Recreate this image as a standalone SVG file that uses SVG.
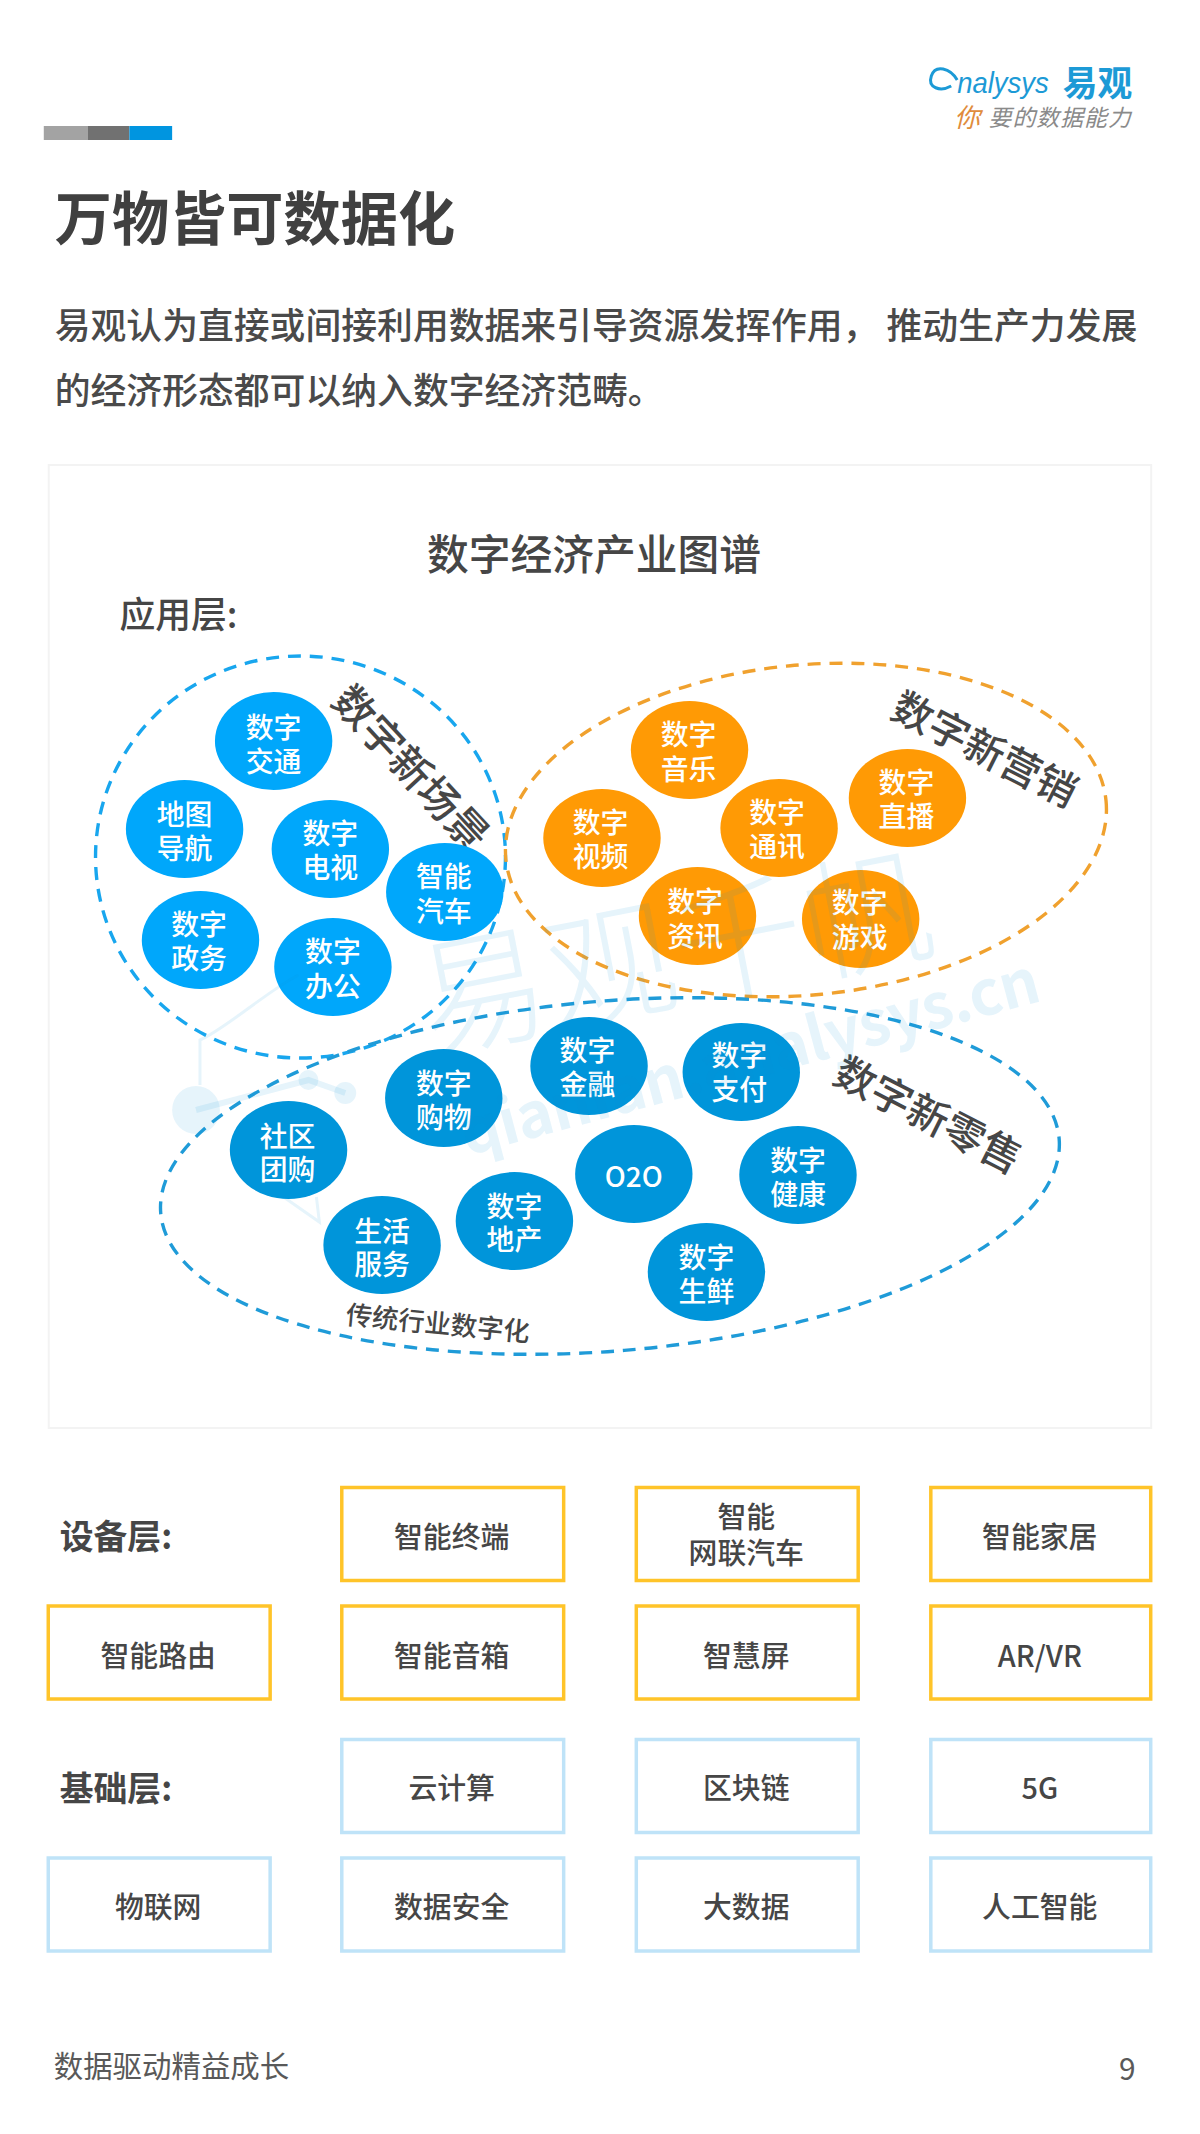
<svg xmlns="http://www.w3.org/2000/svg" width="1200" height="2134" viewBox="0 0 1200 2134">
<style>
text{font-family:"Noto Sans CJK SC","Noto Sans",sans-serif;text-anchor:middle;fill:#464646}
.l{text-anchor:start}
.c{font-size:28px;fill:#fff;font-weight:500}
.a{fill:#00a7fb}.b{fill:#ff9a05}.d{fill:#0095da}
.dash{fill:none;stroke-width:3.4;stroke-dasharray:13 9}
.bx{fill:#fff;stroke-width:3.5}
.y{stroke:#ffc429}.s{stroke:#bfe3f8}
.t{font-size:29px;font-weight:500}
.h{font-size:34px;font-weight:700}
.wm{fill:#0a90dc;fill-opacity:.1}
</style>
<rect width="1200" height="2134" fill="#fff"/>
<g id="page" transform="scale(.995 1)">
<g id="header">
<rect x="44" y="126" width="44" height="14" fill="#a3a3a3"/>
<rect x="88" y="126" width="42" height="14" fill="#717171"/>
<rect x="130" y="126" width="43" height="14" fill="#0095e0"/>
<g id="logo">
<path d="M962 80C955 68 940 64 936 76C932 88 945 92 956 86" fill="none" stroke="#1c9ad6" stroke-width="3"/>
<text x="962" y="93" class="l" style="font-family:'Liberation Sans',sans-serif;font-size:30px;font-style:italic;fill:#1c9ad6" textLength="92" lengthAdjust="spacingAndGlyphs">nalysys</text>
<text x="1103" y="96" style="font-size:35px;font-weight:700;fill:#1c9ad6">易观</text>
<text x="972" y="127" style="font-size:26px;font-style:italic;fill:#e08c3c">你</text>
<text x="1065" y="126" style="font-size:23px;font-style:italic;fill:#8a8a8a" textLength="143">要的数据能力</text>
</g>
<text x="55" y="240" class="l" style="font-size:57.5px;font-weight:700;fill:#404040">万物皆可数据化</text>
<text x="55" y="339" class="l" style="font-size:36px;font-weight:500;fill:#4a4a4a" xml:space="preserve">易观认为直接或间接利用数据来引导资源发挥作用， 推动生产力发展</text>
<text x="55" y="404" class="l" style="font-size:36px;font-weight:500;fill:#4a4a4a">的经济形态都可以纳入数字经济范畴。</text>
</g>
<rect id="panel" x="49" y="465" width="1108" height="963" fill="#fff" stroke="#f3f3f3" stroke-width="2"/>
<text x="597" y="570" style="font-size:42px;font-weight:500">数字经济产业图谱</text>
<text x="120" y="628" class="l" style="font-size:36px;font-weight:500">应用层:</text>
<g id="regions">
<ellipse cx="302" cy="857" rx="206" ry="201" class="dash" stroke="#18a6ee"/>
<ellipse cx="810" cy="830" rx="303" ry="165" class="dash" stroke="#f0a12e" transform="rotate(-5.5 810 830)"/>
<ellipse cx="613" cy="1176" rx="453" ry="175" class="dash" stroke="#1f9bd8" transform="rotate(-4.7 613 1176)"/>
</g>
<g id="region-labels">
<text transform="translate(413 768) rotate(47)" y="15" style="font-size:41.5px;font-weight:500">数字新场景</text>
<text transform="translate(990 749) rotate(27)" y="15" style="font-size:40.5px;font-weight:500">数字新营销</text>
<text transform="translate(933 1115) rotate(27)" y="15" style="font-size:41px;font-weight:500">数字新零售</text>
<text transform="translate(440 1324) rotate(5.5)" y="9" style="font-size:26.5px;font-weight:500">传统行业数字化</text>
</g>
<g id="n-jiaotong"><ellipse cx="275" cy="741" rx="59" ry="49" class="a"/><text class="c" x="275" y="738">数字</text><text class="c" x="275" y="772">交通</text></g>
<g id="n-daohang"><ellipse cx="185.500" cy="829" rx="59" ry="49" class="a"/><text class="c" x="185.500" y="825">地图</text><text class="c" x="185.500" y="859">导航</text></g>
<g id="n-dianshi"><ellipse cx="332" cy="849" rx="59" ry="49" class="a"/><text class="c" x="332" y="844">数字</text><text class="c" x="332" y="878">电视</text></g>
<g id="n-qiche"><ellipse cx="447" cy="892" rx="59" ry="49" class="a"/><text class="c" x="446" y="887">智能</text><text class="c" x="446" y="922">汽车</text></g>
<g id="n-zhengwu"><ellipse cx="201.500" cy="940" rx="59" ry="49" class="a"/><text class="c" x="200" y="935">数字</text><text class="c" x="200" y="969">政务</text></g>
<g id="n-bangong"><ellipse cx="334.600" cy="967" rx="59" ry="49" class="a"/><text class="c" x="334.600" y="962">数字</text><text class="c" x="334.600" y="997">办公</text></g>
<g id="n-yinyue"><ellipse cx="693" cy="750" rx="59" ry="49" class="b"/><text class="c" x="692" y="745">数字</text><text class="c" x="692" y="780">音乐</text></g>
<g id="n-shipin"><ellipse cx="605" cy="838" rx="59" ry="49" class="b"/><text class="c" x="603.600" y="833">数字</text><text class="c" x="603.600" y="867">视频</text></g>
<g id="n-tongxun"><ellipse cx="783" cy="828" rx="59" ry="49" class="b"/><text class="c" x="781" y="823">数字</text><text class="c" x="781" y="857">通讯</text></g>
<g id="n-zhibo"><ellipse cx="912" cy="798" rx="59" ry="49" class="b"/><text class="c" x="911" y="793">数字</text><text class="c" x="911" y="827">直播</text></g>
<g id="n-zixun"><ellipse cx="701" cy="916" rx="59" ry="49" class="b"/><text class="c" x="698.600" y="912">数字</text><text class="c" x="698.600" y="947">资讯</text></g>
<g id="n-youxi"><ellipse cx="865" cy="919" rx="59" ry="49" class="b"/><text class="c" x="864" y="913">数字</text><text class="c" x="864" y="948">游戏</text></g>
<g id="n-gouwu"><ellipse cx="446" cy="1098" rx="59" ry="49" class="d"/><text class="c" x="446" y="1094">数字</text><text class="c" x="446" y="1128">购物</text></g>
<g id="n-jinrong"><ellipse cx="592" cy="1066" rx="59" ry="49" class="d"/><text class="c" x="590.400" y="1061">数字</text><text class="c" x="590.400" y="1095">金融</text></g>
<g id="n-zhifu"><ellipse cx="745" cy="1072" rx="59" ry="49" class="d"/><text class="c" x="743" y="1066">数字</text><text class="c" x="743" y="1100">支付</text></g>
<g id="n-tuangou"><ellipse cx="290" cy="1150" rx="59" ry="49" class="d"/><text class="c" x="289" y="1147">社区</text><text class="c" x="289" y="1180">团购</text></g>
<g id="n-o2o"><ellipse cx="637" cy="1174" rx="59" ry="49" class="d"/><text class="c" x="637" y="1187">O2O</text></g>
<g id="n-jiankang"><ellipse cx="802" cy="1175" rx="59" ry="49" class="d"/><text class="c" x="802" y="1171">数字</text><text class="c" x="802" y="1205">健康</text></g>
<g id="n-dichan"><ellipse cx="517" cy="1221" rx="59" ry="49" class="d"/><text class="c" x="517" y="1217">数字</text><text class="c" x="517" y="1250">地产</text></g>
<g id="n-shenghuo"><ellipse cx="384" cy="1245" rx="59" ry="49" class="d"/><text class="c" x="384" y="1242">生活</text><text class="c" x="384" y="1275">服务</text></g>
<g id="n-shengxian"><ellipse cx="710" cy="1272" rx="59" ry="49" class="d"/><text class="c" x="710" y="1268">数字</text><text class="c" x="710" y="1302">生鲜</text></g>
<g id="watermark">
<text class="wm" transform="translate(687 1000) rotate(-11)" style="font-size:130px;font-weight:300" textLength="524">易观千帆</text>
<text class="wm" transform="translate(759 1078) rotate(-15)" style="font-size:62px;font-weight:700" textLength="600">qianfan.analysys.cn</text>
<circle cx="197" cy="1110" r="24" class="wm"/>
<circle cx="347" cy="1093" r="11" class="wm"/>
<circle cx="310" cy="1080" r="10" class="wm"/>
<path d="M197 1110L310 1080L347 1093" fill="none" stroke="#0a90dc" stroke-opacity=".1" stroke-width="6"/>
<path d="M201 1085V1040C225 1030 270 990 300 975M285 1197L321 1222L318 1197" fill="none" stroke="#0a90dc" stroke-opacity=".1" stroke-width="3"/>
</g>
<g id="device-layer">
<text class="h l" x="60" y="1549">设备层:</text>
<g id="b1"><rect x="343.500" y="1487.500" width="223" height="93" class="bx y"/><text class="t" x="454" y="1548">智能终端</text></g>
<g id="b2"><rect x="639.500" y="1487.500" width="223" height="93" class="bx y"/><text class="t" x="750" y="1528">智能</text><text class="t" x="750" y="1564">网联汽车</text></g>
<g id="b3"><rect x="935.500" y="1487.500" width="221" height="93" class="bx y"/><text class="t" x="1045" y="1548">智能家居</text></g>
<g id="b4"><rect x="48.500" y="1606" width="223" height="93" class="bx y"/><text class="t" x="159" y="1667">智能路由</text></g>
<g id="b5"><rect x="343.500" y="1606" width="223" height="93" class="bx y"/><text class="t" x="454" y="1667">智能音箱</text></g>
<g id="b6"><rect x="639.500" y="1606" width="223" height="93" class="bx y"/><text class="t" x="750" y="1667">智慧屏</text></g>
<g id="b7"><rect x="935.500" y="1606" width="221" height="93" class="bx y"/><text class="t" x="1045" y="1667">AR/VR</text></g>
</g>
<g id="base-layer">
<text class="h l" x="60" y="1801">基础层:</text>
<g id="c1"><rect x="343.500" y="1739.500" width="223" height="93" class="bx s"/><text class="t" x="454" y="1799">云计算</text></g>
<g id="c2"><rect x="639.500" y="1739.500" width="223" height="93" class="bx s"/><text class="t" x="750" y="1799">区块链</text></g>
<g id="c3"><rect x="935.500" y="1739.500" width="221" height="93" class="bx s"/><text class="t" x="1045" y="1799">5G</text></g>
<g id="c4"><rect x="48.500" y="1858" width="223" height="93" class="bx s"/><text class="t" x="159" y="1918">物联网</text></g>
<g id="c5"><rect x="343.500" y="1858" width="223" height="93" class="bx s"/><text class="t" x="454" y="1918">数据安全</text></g>
<g id="c6"><rect x="639.500" y="1858" width="223" height="93" class="bx s"/><text class="t" x="750" y="1918">大数据</text></g>
<g id="c7"><rect x="935.500" y="1858" width="221" height="93" class="bx s"/><text class="t" x="1045" y="1918">人工智能</text></g>
</g>
<g id="footer">
<text x="54" y="2077" class="l" style="font-size:29.6px;fill:#595959">数据驱动精益成长</text>
<text x="1133" y="2080" style="font-size:30px;fill:#595959">9</text>
</g>
</g>
<g id="connectors"/>
</svg>
